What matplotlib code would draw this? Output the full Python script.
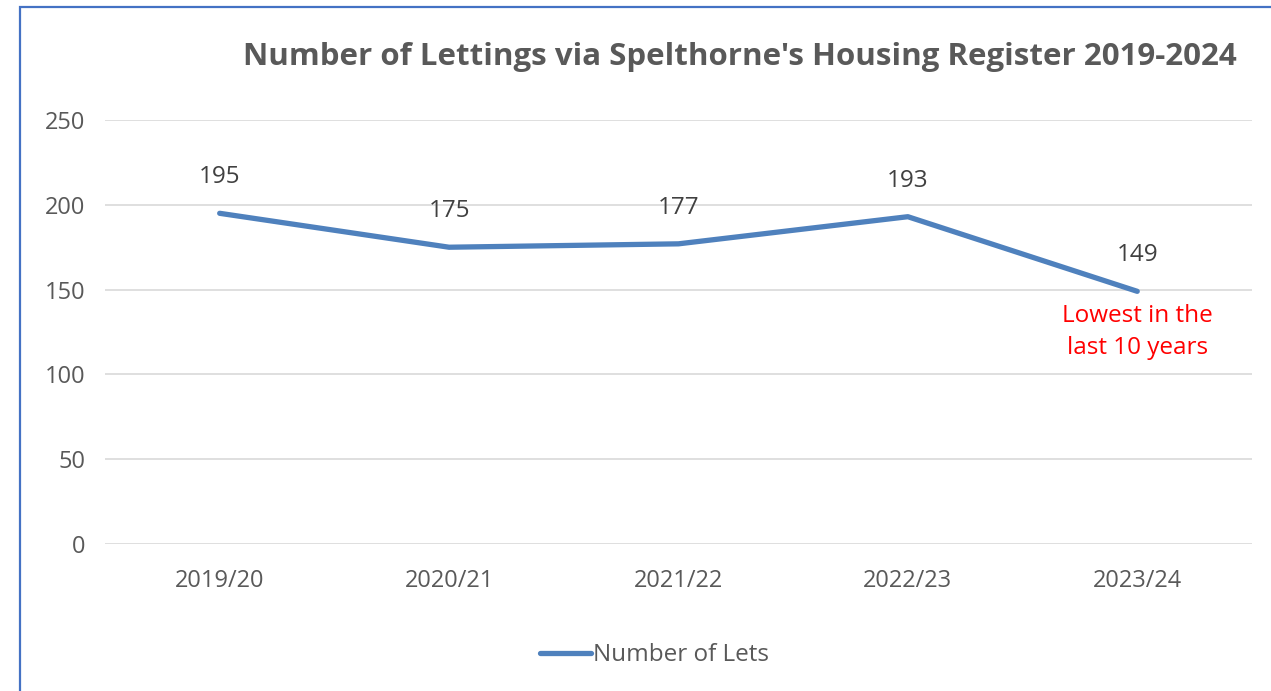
import matplotlib.pyplot as plt
from matplotlib.patches import Rectangle

plt.rcParams['font.family'] = ['Open Sans', 'DejaVu Sans']

# datos
anios = ['2019/20', '2020/21', '2021/22', '2022/23', '2023/24']
lets = [195, 175, 177, 193, 149]
y_ticks = [0, 50, 100, 150, 200, 250]

gris = '#595959'
azul = '#4F81BD'

fig = plt.figure(figsize=(12.71, 6.91), dpi=100)
ax = fig.add_axes([0.0826, 0.2127, 0.9024, 0.6136])

x = list(range(len(anios)))
ax.plot(x, lets, color=azul, lw=3.8, solid_capstyle='round',
        solid_joinstyle='round', label='Number of Lets')

for xi, v in zip(x, lets):
    ax.annotate(str(v), (xi, v), xytext=(0, 26), textcoords='offset points',
                ha='center', va='center', fontsize=17.5, color='#404040')

ax.annotate('Lowest in the\nlast 10 years', (x[-1], lets[-1]), xytext=(0, -29),
            textcoords='offset points', ha='center', va='center',
            fontsize=17.5, color='#FF0000', linespacing=1.45)

ax.set_xlim(-0.5, len(anios) - 0.5)
ax.set_ylim(0, 250)
ax.set_xticks(x)
ax.set_xticklabels(anios)
ax.set_yticks(y_ticks)
ax.tick_params(axis='both', length=0, labelsize=17, colors=gris)
ax.tick_params(axis='y', pad=14)
ax.tick_params(axis='x', pad=18)
ax.grid(axis='y', color='#D9D9D9', lw=1.2)
ax.set_axisbelow(True)
for s in ax.spines.values():
    s.set_visible(False)

fig.text(0.582, 0.918, "Number of Lettings via Spelthorne's Housing Register 2019-2024",
         ha='center', va='center', fontsize=22.5, fontweight='bold', color=gris)

fig.legend(loc='center', bbox_to_anchor=(0.515, 0.052), frameon=False,
           fontsize=17.5, labelcolor=gris, handlelength=2.1, handletextpad=0.1)

# marco
fig.patches.append(Rectangle((20 / 1271, -0.1), 1.2, 1.1 - 7 / 691,
                             transform=fig.transFigure, fill=False,
                             edgecolor='#4472C4', lw=1.6))

plt.savefig('out.png')
plt.close()
